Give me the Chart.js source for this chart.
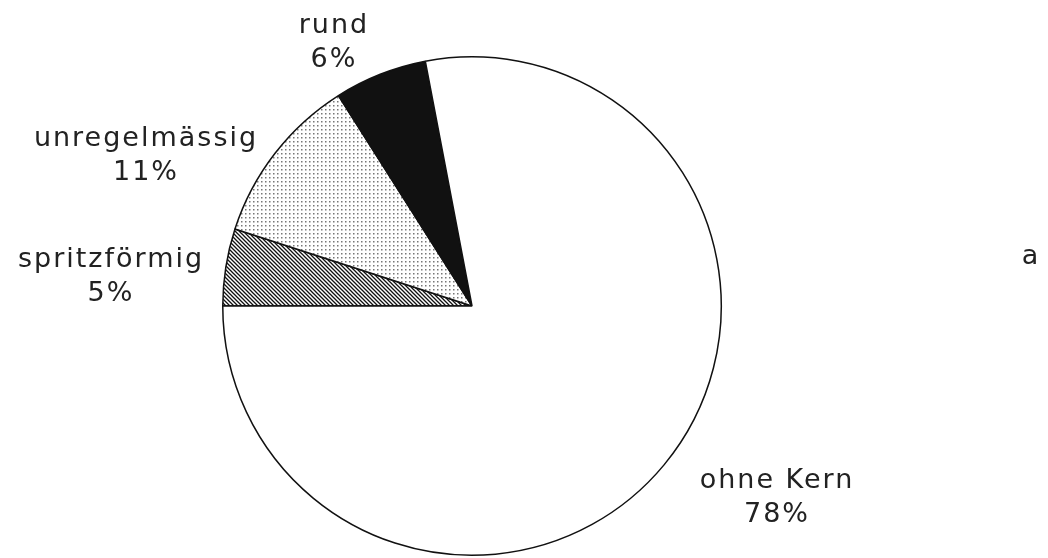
<!DOCTYPE html>
<html>
<head>
<meta charset="utf-8">
<script src="https://cdn.jsdelivr.net/npm/chart.js@4.4.1/dist/chart.umd.min.js"></script>
<style>
  html, body { margin: 0; padding: 0; background: #fff; }
  #wrap { width: 1048px; height: 558px; position: relative; }
</style>
</head>
<body>
<div id="wrap"><canvas id="c" width="1048" height="558"></canvas></div>
<script>
// ---- data ----
const categories = ["spritzförmig", "unregelmässig", "rund", "ohne Kern"];
const values = [5, 11, 6, 78];
const panelLetter = "a";

// ---- fill patterns ----
function hatchPattern() {
  const s = 4;
  const t = document.createElement('canvas');
  t.width = s; t.height = s;
  const g = t.getContext('2d');
  g.fillStyle = '#fff'; g.fillRect(0, 0, s, s);
  g.strokeStyle = '#111'; g.lineWidth = 1.3;
  g.beginPath();
  g.moveTo(-1, -1); g.lineTo(s + 1, s + 1);
  g.moveTo(-1, s - 1); g.lineTo(1, s + 1);
  g.moveTo(s - 1, -1); g.lineTo(s + 1, 1);
  g.stroke();
  return g.createPattern(t, 'repeat');
}
function dotPattern() {
  const s = 4;
  const t = document.createElement('canvas');
  t.width = s; t.height = s;
  const g = t.getContext('2d');
  g.fillStyle = '#fff'; g.fillRect(0, 0, s, s);
  g.fillStyle = '#777';
  g.fillRect(1, 1, 1.5, 1.5);
  return g.createPattern(t, 'repeat');
}

const fills = [hatchPattern(), dotPattern(), '#111111', '#ffffff'];

// label anchor positions (layout only): x center, first-line baseline
const labelLayout = [
  { x: 111, y: 267 },
  { x: 146, y: 146 },
  { x: 334, y: 33 },
  { x: 777, y: 488 }
];

const labelPlugin = {
  id: 'sliceLabels',
  afterDraw(chart) {
    const ctx = chart.ctx;
    ctx.save();
    ctx.fillStyle = '#222';
    ctx.font = '400 27px "DejaVu Sans"';
    ctx.textAlign = 'center';
    ctx.textBaseline = 'alphabetic';
    if ('letterSpacing' in ctx) ctx.letterSpacing = '2px';
    const ds = chart.data.datasets[0];
    chart.data.labels.forEach((lab, i) => {
      const p = labelLayout[i];
      ctx.fillText(lab, p.x, p.y);
      ctx.fillText(ds.data[i] + '%', p.x, p.y + 34);
    });
    ctx.fillText(panelLetter, 1031, 264);
    ctx.restore();
  }
};

new Chart(document.getElementById('c'), {
  type: 'pie',
  data: {
    labels: categories,
    datasets: [{
      data: values,
      backgroundColor: fills,
      borderColor: '#111',
      borderWidth: 1.5,
      hoverOffset: 0
    }]
  },
  options: {
    responsive: false,
    devicePixelRatio: 1,
    animation: false,
    rotation: -90,
    layout: { padding: { left: 222, right: 326, top: 56, bottom: 2 } },
    plugins: {
      legend: { display: false },
      tooltip: { enabled: false }
    },
    events: []
  },
  plugins: [labelPlugin]
});
</script>
</body>
</html>
